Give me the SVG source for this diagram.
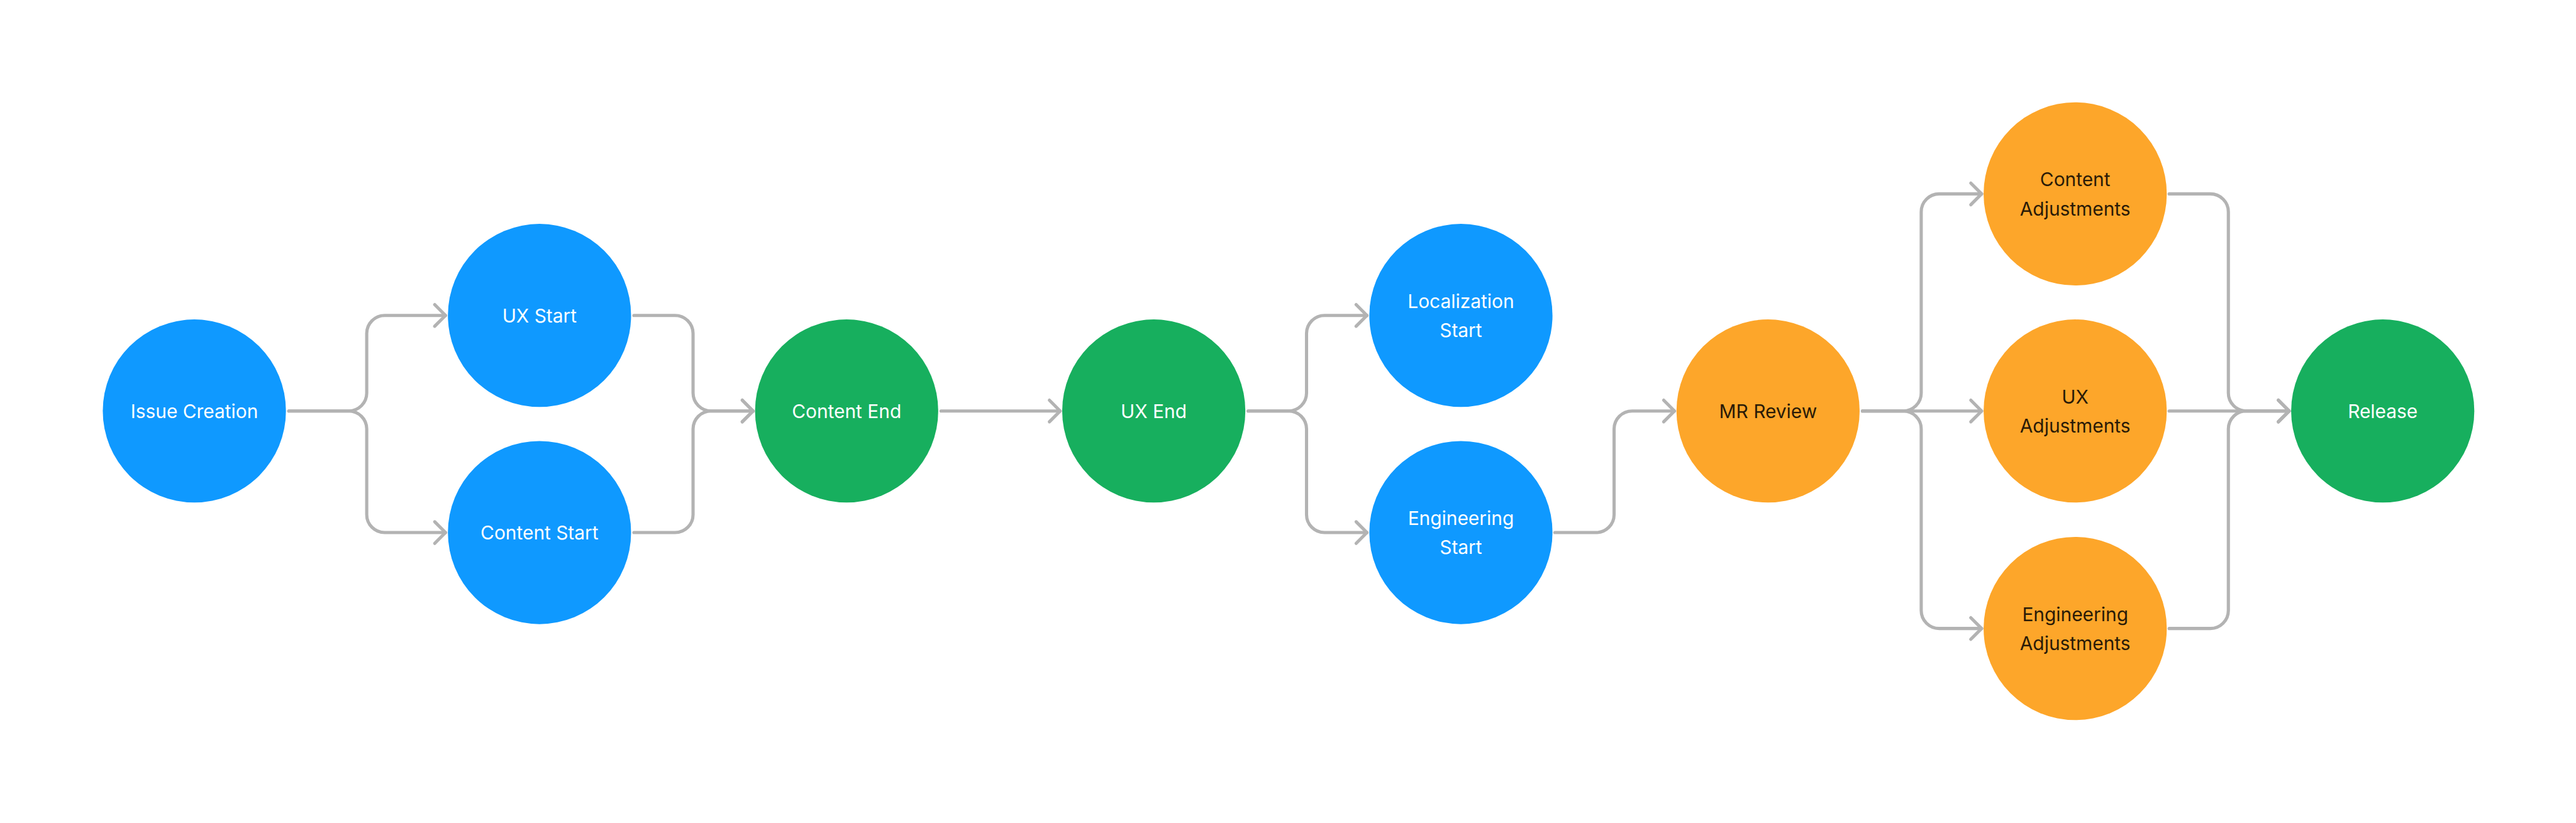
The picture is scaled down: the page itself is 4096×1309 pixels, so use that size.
<svg xmlns="http://www.w3.org/2000/svg" width="4096" height="1309" viewBox="0 0 4096 1309">
<style>
.bg{fill:#ffffff}
.blue{fill:#0F99FF}
.green{fill:#17AF5E}
.orange{fill:#FDA62A}
.lbl{font-family:Inter,"Noto Sans","Liberation Sans",sans-serif;font-size:47px;text-anchor:middle}
.w{fill:#ffffff}
.d{fill:#2A1B07}
.c{fill:none;stroke:#B3B3B3;stroke-width:8;stroke-linecap:round;stroke-linejoin:round}
</style>
<defs>
<marker id="ah" markerUnits="userSpaceOnUse" viewBox="-40 -40 50 80" refX="0" refY="0" markerWidth="50" markerHeight="80" orient="auto" overflow="visible">
<path d="M-27,-27 L0,0 L-27,27" fill="none" stroke="#B3B3B3" stroke-width="8" stroke-linecap="round" stroke-linejoin="round"/>
</marker>
</defs>
<rect class="bg" x="0" y="0" width="4096" height="1309"/>
<g transform="scale(0.6359)">
<g id="connectors">
<path class="c" marker-end="url(#ah)" d="M722,1028 H872 A45,45 0 0 0 917,983 V834 A45,45 0 0 1 962,789 H1114"/>
<path class="c" marker-end="url(#ah)" d="M722,1028 H872 A45,45 0 0 1 917,1073 V1287 A45,45 0 0 0 962,1332 H1114"/>
<path class="c" marker-end="url(#ah)" d="M1585,789 H1688 A45,45 0 0 1 1733,834 V983 A45,45 0 0 0 1778,1028 H1883"/>
<path class="c" marker-end="url(#ah)" d="M1585,1332 H1688 A45,45 0 0 0 1733,1287 V1073 A45,45 0 0 1 1778,1028 H1883"/>
<path class="c" marker-end="url(#ah)" d="M2353,1028 H2651"/>
<path class="c" marker-end="url(#ah)" d="M3121,1028 H3222 A45,45 0 0 0 3267,983 V834 A45,45 0 0 1 3312,789 H3418"/>
<path class="c" marker-end="url(#ah)" d="M3121,1028 H3222 A45,45 0 0 1 3267,1073 V1287 A45,45 0 0 0 3312,1332 H3418"/>
<path class="c" marker-end="url(#ah)" d="M3888,1332 H3991 A45,45 0 0 0 4036,1287 V1073 A45,45 0 0 1 4081,1028 H4187"/>
<path class="c" marker-end="url(#ah)" d="M4657,1028 H4759 A45,45 0 0 0 4804,983 V530 A45,45 0 0 1 4849,485 H4955"/>
<path class="c" marker-end="url(#ah)" d="M4657,1028 H4955"/>
<path class="c" marker-end="url(#ah)" d="M4657,1028 H4759 A45,45 0 0 1 4804,1073 V1527 A45,45 0 0 0 4849,1572 H4955"/>
<path class="c" marker-end="url(#ah)" d="M5424,485 H5527 A45,45 0 0 1 5572,530 V983 A45,45 0 0 0 5617,1028 H5724"/>
<path class="c" marker-end="url(#ah)" d="M5424,1028 H5724"/>
<path class="c" marker-end="url(#ah)" d="M5424,1572 H5527 A45,45 0 0 0 5572,1527 V1073 A45,45 0 0 1 5617,1028 H5724"/>
</g>
<g id="issue-creation"><circle class="blue" cx="486" cy="1028" r="229"/><text class="lbl w" x="486" y="1045">Issue Creation</text></g>
<g id="ux-start"><circle class="blue" cx="1349" cy="789" r="229"/><text class="lbl w" x="1349" y="806">UX Start</text></g>
<g id="content-start"><circle class="blue" cx="1349" cy="1332" r="229"/><text class="lbl w" x="1349" y="1349">Content Start</text></g>
<g id="content-end"><circle class="green" cx="2117" cy="1028" r="229"/><text class="lbl w" x="2117" y="1045">Content End</text></g>
<g id="ux-end"><circle class="green" cx="2885" cy="1028" r="229"/><text class="lbl w" x="2885" y="1045">UX End</text></g>
<g id="localization-start"><circle class="blue" cx="3653" cy="789" r="229"/><text class="lbl w" x="3653" y="770">Localization</text><text class="lbl w" x="3653" y="843">Start</text></g>
<g id="engineering-start"><circle class="blue" cx="3653" cy="1332" r="229"/><text class="lbl w" x="3653" y="1313">Engineering</text><text class="lbl w" x="3653" y="1386">Start</text></g>
<g id="mr-review"><circle class="orange" cx="4421" cy="1028" r="229"/><text class="lbl d" x="4421" y="1045">MR Review</text></g>
<g id="content-adjustments"><circle class="orange" cx="5189" cy="485" r="229"/><text class="lbl d" x="5189" y="466">Content</text><text class="lbl d" x="5189" y="539">Adjustments</text></g>
<g id="ux-adjustments"><circle class="orange" cx="5189" cy="1028" r="229"/><text class="lbl d" x="5189" y="1009">UX</text><text class="lbl d" x="5189" y="1082">Adjustments</text></g>
<g id="engineering-adjustments"><circle class="orange" cx="5189" cy="1572" r="229"/><text class="lbl d" x="5189" y="1553">Engineering</text><text class="lbl d" x="5189" y="1626">Adjustments</text></g>
<g id="release"><circle class="green" cx="5958" cy="1028" r="229"/><text class="lbl w" x="5958" y="1045">Release</text></g>
</g>
</svg>
